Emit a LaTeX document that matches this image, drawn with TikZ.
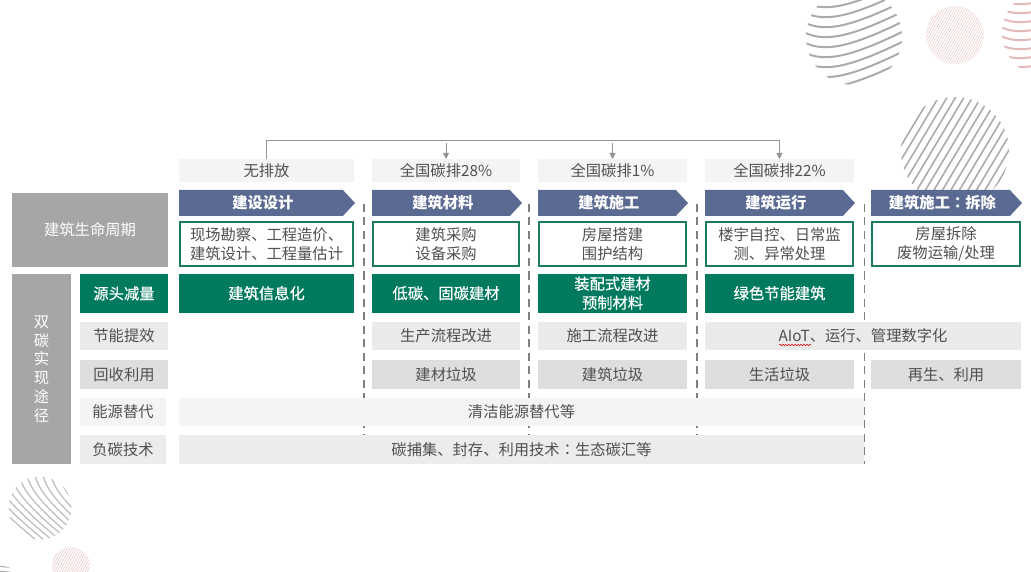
\documentclass[tikz,border=0pt]{standalone}
\usepackage{fontspec}
\setmainfont{Noto Sans CJK SC}
\newfontfamily\midfont[FakeBold=.5]{Noto Sans CJK SC}
\newfontfamily\colonfont{Noto Sans CJK TC}
\usetikzlibrary{positioning,shapes.symbols,arrows.meta,decorations.pathmorphing}

\definecolor{leafgreen}{HTML}{007A5E}
\definecolor{edgegreen}{HTML}{1A7D58}
\definecolor{slateblue}{HTML}{5A6A92}
\definecolor{sidegray}{HTML}{A6A6A6}
\definecolor{bodytext}{HTML}{505050}
\definecolor{paleband}{HTML}{F4F4F4}
\definecolor{midband}{HTML}{EAEAEA}
\definecolor{darkband}{HTML}{DEDEDE}
\definecolor{stripegray}{HTML}{ABABAB}
\definecolor{stripepink}{HTML}{E3B9B9}

\newcommand{\cellfont}{\fontsize{15.3}{19}\selectfont}

\tikzset{
  cell/.style={inner sep=0pt, outer sep=0pt, align=center, text=bodytext, font=\cellfont},
  emission/.style={cell, fill=paleband, minimum height=23pt},
  stage/.style={cell, signal, signal to=east, signal pointer angle=94, fill=slateblue,
    text=white, font=\cellfont\bfseries, minimum height=26pt,
    execute at begin node={\hspace*{4pt}}},
  scopebox/.style={cell, draw=edgegreen, line width=1.7pt, fill=white, minimum height=44.3pt},
  source/.style={cell, fill=leafgreen, text=white, font=\cellfont\midfont, minimum height=39pt},
  saving/.style={cell, fill=midband, minimum height=28pt},
  recycle/.style={cell, fill=darkband, minimum height=29pt},
  energy/.style={cell, fill=paleband, minimum height=28pt},
  negative/.style={cell, fill=midband!80!paleband, minimum height=29pt},
  sidebox/.style={cell, fill=sidegray, text=white},
  divider/.style={draw=gray, line width=1.4pt, dash pattern=on 8pt off 5.5pt},
  bus/.style={draw=gray!85, line width=.9pt},
  drop/.style={bus, -{Triangle[width=6pt,length=6pt]}},
  hatch/.style={stripegray, line width=2pt},
  softhatch/.style={stripepink, line width=2pt},
}

\begin{document}
\begin{tikzpicture}[x=1pt,y=-1pt]
 \useasboundingbox (0,0) rectangle (1031,572);
 % backdrop discs
 \begin{scope}
   \clip (854,37) circle (48);
   \foreach \k in {-40,-30,...,110}
     \draw[hatch] (800,\k) .. controls (822,\k+14) and (850,\k+8) .. (910,\k-22);
 \end{scope}
 \begin{scope}
   \clip (955,35) circle (29);
   \foreach \k in {900,902.5,...,1020}
     \draw[stripepink!70, line width=.6pt] (\k,70) -- ++(40,-70);
 \end{scope}
 \begin{scope}
   \clip (1045,33) circle (43);
   \foreach \k in {-30,-21,...,90}
     \draw[softhatch] (995,\k) .. controls (1017,\k+14) and (1045,\k+8) .. (1100,\k-22);
 \end{scope}
 \begin{scope}
   \clip (955,151) circle (54);
   \foreach \k in {820,828.5,...,1080}
     \draw[stripegray, line width=1.6pt] (\k,210) -- ++(72,-120);
 \end{scope}
 \begin{scope}
   \clip (40,508) circle (31.5);
   \foreach \k in {-70,-62,...,70}
     \draw[stripegray!75, line width=1.3pt] (\k,470) .. controls (\k+3,490) and (\k+15,505) .. (\k+70,550);
 \end{scope}
 \begin{scope}
   \clip (71,566) circle (19);
   \foreach \k in {20,22.5,...,120}
     \draw[stripepink!70, line width=.7pt] (\k,590) -- ++(24,-45);
 \end{scope}
 \begin{scope}
   \clip (-5,605) circle (40);
   \foreach \k in {566,571,576}
     \draw[stripegray, line width=1.2pt] (-10,\k) .. controls (5,\k) and (15,\k+2) .. (30,\k+5);
 \end{scope}

 % stage dividers, covered by the bands further down
 \coordinate (divA) at (364,204);
 \coordinate (divB) at (529,204);
 \coordinate (divC) at (697,204);
 \coordinate (divD) at (864,204);
 \coordinate (divAend) at (364,436);
 \coordinate (divBend) at (529,436);
 \coordinate (divCend) at (697,436);
 \coordinate (divDend) at (864,464);
 \draw[divider] (divA) -- (divAend);
 \draw[divider] (divB) -- (divBend);
 \draw[divider] (divC) -- (divCend);
 \draw[divider, line width=1pt] (divD) -- (divDend);

 % left headers
 \node[sidebox, anchor=north west, minimum width=156pt, minimum height=74pt] (life) at (12,193) {建筑生命周期};
 \node[sidebox, anchor=north west, minimum width=59pt, minimum height=190pt,
       font=\fontsize{15.3}{18.8}\selectfont] (route) at (12,274) {双\\碳\\实\\现\\途\\径};
 \node[source, anchor=north west, minimum width=88pt] (rowsrc) at (80,274) {源头减量};
 \node[saving, below=9pt of rowsrc, minimum width=88pt] (rowsave) {节能提效};
 \node[recycle, below=10pt of rowsave, minimum width=88pt] (rowrec) {回收利用};
 \node[energy, below=9pt of rowrec, minimum width=86pt, xshift=-1pt] (rowene) {能源替代};
 \node[negative, below=9pt of rowene, minimum width=86pt] (rowneg) {负碳技术};

 % first column
 \node[emission, anchor=north west, minimum width=175pt] (topA) at (179,159) {无排放};
 \node[stage, below right=8pt and 0pt of topA.south west, minimum width=176pt] (stageA) {建设设计};
 \node[scopebox, below right=5.7pt and .8pt of stageA.south west, minimum width=173.5pt] (scopeA) {现场勘察、工程造价、\\建筑设计、工程量估计};
 \node[source, below=7.7pt of scopeA, minimum width=175pt] (srcA) {建筑信息化};

 % second column
 \node[emission, right=18pt of topA, minimum width=148pt] (topB) {全国碳排28\%};
 \node[stage, below right=8pt and 0pt of topB.south west, minimum width=150pt] (stageB) {建筑材料};
 \node[scopebox, below right=5.7pt and .8pt of stageB.south west, minimum width=146.5pt] (scopeB) {建筑采购\\设备采购};
 \node[source, below=7.7pt of scopeB, minimum width=148pt] (srcB) {低碳、固碳建材};
 \node[saving, below=9pt of srcB, minimum width=148pt] (saveB) {生产流程改进};
 \node[recycle, below=10pt of saveB, minimum width=148pt] (recB) {建材垃圾};

 % third column
 \node[emission, right=18pt of topB, minimum width=149pt] (topC) {全国碳排1\%};
 \node[stage, below right=8pt and 0pt of topC.south west, minimum width=150pt] (stageC) {建筑施工};
 \node[scopebox, below right=5.7pt and .8pt of stageC.south west, minimum width=147.5pt] (scopeC) {房屋搭建\\围护结构};
 \node[source, below=7.7pt of scopeC, minimum width=149pt] (srcC) {装配式建材\\预制材料};
 \node[saving, below=9pt of srcC, minimum width=149pt] (saveC) {施工流程改进};
 \node[recycle, below=10pt of saveC, minimum width=149pt] (recC) {建筑垃圾};

 % fourth column
 \node[emission, right=18pt of topC, minimum width=149pt] (topD) {全国碳排22\%};
 \node[stage, below right=8pt and 0pt of topD.south west, minimum width=150pt] (stageD) {建筑运行};
 \node[scopebox, below right=5.7pt and .8pt of stageD.south west, minimum width=147.5pt] (scopeD) {楼宇自控、日常监\\测、异常处理};
 \node[source, below=7.7pt of scopeD, minimum width=149pt] (srcD) {绿色节能建筑};
 \node[recycle, anchor=north west, minimum width=149pt] (recD) at (705,360) {生活垃圾};

 % fifth column
 \node[stage, anchor=north west, minimum width=151pt] (stageE) at (871,190) {建筑施工{\colonfont ：}拆除};
 \node[scopebox, below right=5.7pt and .8pt of stageE.south west, minimum width=148.5pt] (scopeE) {房屋拆除\\废物运输/处理};
 \node[recycle, anchor=north west, minimum width=150pt] (recE) at (871,360) {再生、利用};

 % bands over several stages
 \node[saving, anchor=north west, minimum width=316pt] (saveD) at (705,322) {AIoT、运行、管理数字化};
 \node[energy, anchor=north west, minimum width=685pt] (energyband) at (179,398) {清洁能源替代等};
 \node[negative, anchor=north west, minimum width=685pt] (negband) at (179,435) {碳捕集、封存、利用技术{\colonfont ：}生态碳汇等};

 % spell mark under AIoT
 \coordinate (markL) at (779,345);
 \coordinate (markR) at (811,345);
 \draw[red!80!black, line width=.5pt, decorate, decoration={snake,amplitude=.7pt,segment length=3pt}] (markL) -- (markR);

 % emission bus
 \coordinate (busL) at (topA.north |- 0,140);
 \coordinate (busR) at (topD.north |- 0,140);
 \coordinate (dropB) at (topB.north |- 0,143);
 \coordinate (dropC) at (topC.north |- 0,143);
 \draw[bus] (topA.north) -- (busL) -- (busR);
 \draw[drop] (busR) -- (topD.north);
 \draw[drop] (dropB) -- (topB.north);
 \draw[drop] (dropC) -- (topC.north);
\end{tikzpicture}
\end{document}
